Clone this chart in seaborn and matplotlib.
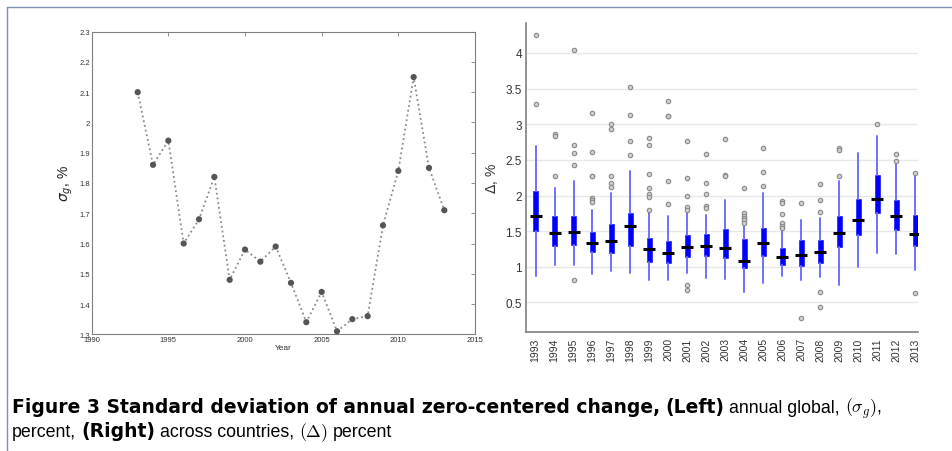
import numpy as np
import pandas as pd
import matplotlib
matplotlib.use("Agg")
import matplotlib.pyplot as plt
import seaborn as sns
from matplotlib.ticker import FormatStrFormatter, MultipleLocator
from matplotlib.lines import Line2D

# ---------- Data: left panel (global sigma) ----------
YEARS = list(range(1993, 2014))
SIGMA_G = [2.10, 1.86, 1.94, 1.60, 1.68, 1.82, 1.48, 1.58, 1.54, 1.59, 1.47,
           1.34, 1.44, 1.31, 1.35, 1.36, 1.66, 1.84, 2.15, 1.85, 1.71]

# ---------- Data: right panel (box stats across countries) ----------
MEDIANS = [1.71, 1.48, 1.49, 1.34, 1.36, 1.57, 1.25, 1.20, 1.28, 1.29, 1.27,
           1.08, 1.34, 1.14, 1.17, 1.21, 1.48, 1.66, 1.95, 1.72, 1.46]
Q1 = [1.50, 1.29, 1.31, 1.21, 1.19, 1.29, 1.07, 1.06, 1.14, 1.15, 1.12,
      0.98, 1.15, 1.02, 1.01, 1.06, 1.28, 1.45, 1.75, 1.52, 1.29]
Q3 = [2.07, 1.71, 1.72, 1.49, 1.60, 1.76, 1.40, 1.36, 1.44, 1.46, 1.53,
      1.39, 1.55, 1.27, 1.37, 1.38, 1.71, 1.95, 2.29, 1.94, 1.73]
WHISK_LO = [0.87, 1.02, 1.02, 0.90, 0.94, 0.92, 0.81, 0.82, 0.91, 0.85, 0.83,
            0.65, 0.78, 0.87, 0.81, 0.86, 0.74, 1.00, 1.20, 1.18, 0.95]
WHISK_HI = [2.69, 2.10, 2.21, 1.80, 2.04, 2.35, 1.78, 1.71, 1.79, 1.73, 1.94,
            1.61, 2.04, 1.53, 1.66, 1.68, 2.20, 2.59, 2.83, 2.46, 2.29]
OUTLIERS = [
    [4.25, 3.29],
    [2.86, 2.83, 2.27],
    [4.04, 2.71, 2.60, 2.43, 0.81],
    [3.16, 2.61, 2.27, 2.27, 1.96, 1.94, 1.91],
    [3.00, 2.93, 2.27, 2.18, 2.12],
    [3.52, 3.13, 2.76, 2.57],
    [2.81, 2.71, 2.30, 2.11, 2.02, 1.98, 1.80],
    [3.33, 3.11, 3.11, 2.20, 1.88],
    [2.77, 2.24, 2.00, 1.84, 1.80, 0.74, 0.68],
    [2.58, 2.18, 2.02, 1.86, 1.82],
    [2.79, 2.29, 2.28],
    [2.11, 1.75, 1.72, 1.68, 1.65, 1.62],
    [2.66, 2.33, 2.14],
    [1.92, 1.89, 1.74, 1.62, 1.57, 1.55],
    [1.90, 0.28],
    [2.16, 1.94, 1.77, 0.65, 0.43],
    [2.66, 2.64, 2.28],
    [],
    [3.01],
    [2.58, 2.49],
    [2.31, 0.64],
]

CAPTION_1 = [("Figure 3 Standard deviation of annual zero-centered change,", "bold"),
             ("(Left)", "bold"), ("annual global,", "normal"), (r"$(\sigma_g)$,", "math")]
CAPTION_2 = [("percent,", "normal"), ("(Right)", "bold"), ("across countries,", "normal"),
             (r"$(\Delta)$", "math"), ("percent", "normal")]

# ---------- Style ----------
sns.set_theme(style="white")
plt.rcParams["font.family"] = ["Liberation Sans", "DejaVu Sans"]

fig = plt.figure(figsize=(9.53, 4.52), dpi=100)
ax1 = fig.add_axes([0.0962, 0.2582, 0.4022, 0.6695])
ax2 = fig.add_axes([0.552, 0.2639, 0.4113, 0.683])

# ---------- Left panel ----------
df_g = pd.DataFrame({"year": YEARS, "sigma": SIGMA_G})
sns.lineplot(data=df_g, x="year", y="sigma", ax=ax1, color="#8a8a8a",
             linestyle=":", linewidth=1.3)
sns.scatterplot(data=df_g, x="year", y="sigma", ax=ax1, color="#555555",
                s=20, edgecolor="none", zorder=3, clip_on=False)
ax1.set_xlim(1990, 2015)
ax1.set_ylim(1.3, 2.3)
ax1.xaxis.set_major_locator(MultipleLocator(5))
ax1.yaxis.set_major_locator(MultipleLocator(0.1))
ax1.yaxis.set_major_formatter(FormatStrFormatter("%g"))
ax1.tick_params(direction="in", top=True, right=True, length=3, width=0.6,
                color="#7f7f7f", labelsize=5.5, labelcolor="#333333", pad=1)
for sp in ax1.spines.values():
    sp.set_color("#7f7f7f")
    sp.set_linewidth(0.8)
ax1.set_xlabel("Year", fontsize=6, labelpad=1, color="#333333")
ax1.set_ylabel(r"$\sigma_g$, %", fontsize=10, labelpad=3, color="#222222")

# ---------- Right panel ----------
positions = np.arange(len(YEARS))
stats = []
for i in range(len(YEARS)):
    stats.append(dict(med=MEDIANS[i], q1=Q1[i], q3=Q3[i],
                      whislo=WHISK_LO[i], whishi=WHISK_HI[i], fliers=OUTLIERS[i]))

ax2.yaxis.grid(True, color="#e8e8e8", linewidth=1)
ax2.set_axisbelow(True)
ax2.bxp(stats, positions=positions, widths=0.26, showcaps=False, patch_artist=True,
        boxprops=dict(facecolor="#0000ff", edgecolor="#0000ff", linewidth=0.4),
        whiskerprops=dict(color="#7070ff", linewidth=1.4),
        medianprops=dict(color="none"),
        flierprops=dict(marker="o", markersize=3.2, markerfacecolor="#cfcfcf",
                        markeredgecolor="#8a8a8a", markeredgewidth=0.8))
ax2.plot(positions, MEDIANS, linestyle="none", marker="_", markersize=8,
         markeredgewidth=2.2, color="black", zorder=5)

ax2.set_xlim(-0.5, 20.15)
ax2.set_ylim(0.09, 4.42)
ax2.set_xticks(positions)
ax2.set_xticklabels([str(y) for y in YEARS], rotation=90, fontsize=7.5, color="#333333")
ax2.yaxis.set_major_locator(MultipleLocator(0.5))
ax2.yaxis.set_major_formatter(FormatStrFormatter("%g"))
ax2.tick_params(axis="y", length=0, labelsize=8.5, labelcolor="#333333", pad=3)
ax2.tick_params(axis="x", length=0, pad=4)
for side in ["top", "right"]:
    ax2.spines[side].set_visible(False)
for side in ["left", "bottom"]:
    ax2.spines[side].set_color("#808080")
    ax2.spines[side].set_linewidth(1.2)
ax2.set_ylabel(r"$\Delta$, %", fontsize=10, color="#333333", labelpad=4)

# ---------- Frame and caption ----------
fx, fy = 7 / 953, 1 - 8 / 452
fig.add_artist(Line2D([fx, fx], [0, fy], transform=fig.transFigure, color="#7f93b2", lw=1))
fig.add_artist(Line2D([fx, 1], [fy, fy], transform=fig.transFigure, color="#7f93b2", lw=1))

fig.canvas.draw()
renderer = fig.canvas.get_renderer()


def write_line(pieces, x0, y0, gap=5):
    x = x0
    for txt, kind in pieces:
        if kind == "bold":
            kw = dict(fontweight="bold", family=["DejaVu Sans"], fontsize=13.5)
        else:
            kw = dict(fontweight="normal", family=["Liberation Sans", "DejaVu Sans"],
                      fontsize=12.8)
        t = fig.text(x / 953, y0, txt, va="baseline", ha="left",
                     color="black", math_fontfamily="cm", **kw)
        bb = t.get_window_extent(renderer=renderer)
        x = bb.x1 + gap


write_line(CAPTION_1, 12, 1 - 413 / 452)
write_line(CAPTION_2, 12, 1 - 437 / 452)

fig.savefig("out.png", dpi=100)
